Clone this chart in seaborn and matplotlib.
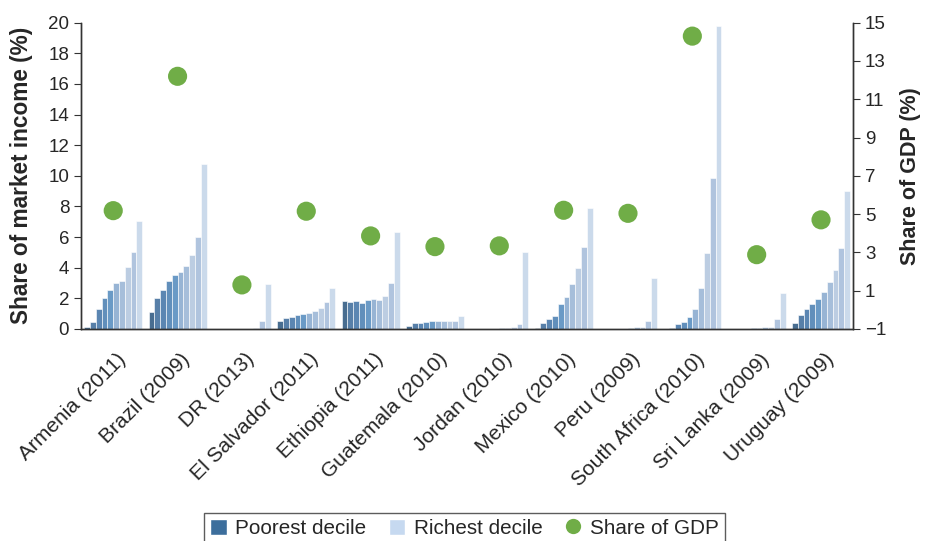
import numpy as np
import pandas as pd
import matplotlib
matplotlib.use("Agg")
import matplotlib.pyplot as plt
import matplotlib.transforms as mtransforms
import seaborn as sns
from matplotlib.lines import Line2D
from matplotlib.patches import Patch

countries = ["Armenia (2011)", "Brazil (2009)", "DR (2013)", "El Salvador (2011)",
             "Ethiopia (2011)", "Guatemala (2010)", "Jordan (2010)", "Mexico (2010)",
             "Peru (2009)", "South Africa (2010)", "Sri Lanka (2009)", "Uruguay (2009)"]

# share of market income per decile (poorest -> richest), %
armenia = [0.15, 0.43, 1.3, 2.0, 2.55, 3.0, 3.13, 4.03, 5.0, 7.05]
brazil = [1.13, 2.02, 2.57, 3.13, 3.5, 3.74, 4.11, 4.83, 6.0, 10.75]
dr = [0.0, 0.0, 0.0, 0.0, 0.01, 0.01, 0.02, 0.05, 0.5, 2.96]
el_salvador = [0.5, 0.72, 0.78, 0.89, 0.98, 1.07, 1.18, 1.35, 1.76, 2.68]
ethiopia = [1.83, 1.78, 1.83, 1.7, 1.87, 1.96, 1.89, 2.13, 3.0, 6.35]
guatemala = [0.22, 0.37, 0.41, 0.48, 0.5, 0.5, 0.5, 0.5, 0.52, 0.85]
jordan = [0.02, 0.02, 0.02, 0.02, 0.02, 0.05, 0.08, 0.1, 0.33, 5.03]
mexico = [0.09, 0.37, 0.67, 0.85, 1.63, 2.11, 2.92, 4.0, 5.37, 7.92]
peru = [0.0, 0.0, 0.0, 0.01, 0.02, 0.05, 0.1, 0.15, 0.5, 3.33]
south_africa = [0.02, 0.09, 0.33, 0.46, 0.76, 1.33, 2.7, 4.98, 9.88, 19.8]
sri_lanka = [0.01, 0.01, 0.01, 0.01, 0.03, 0.05, 0.1, 0.15, 0.65, 2.35]
uruguay = [0.39, 0.89, 1.3, 1.65, 1.96, 2.39, 3.07, 3.87, 5.29, 8.99]

# share of GDP, %
gdp_share = [5.18, 12.2, 1.3, 5.15, 3.86, 3.3, 3.34, 5.2, 5.04, 14.3, 2.88, 4.7]

deciles = [f"D{i}" for i in range(1, 11)]
decile_colors = ["#3c6e9c", "#4a7fb5", "#4c86c0", "#5290ca", "#5b9bd5",
                 "#8db3de", "#9dbde3", "#b6cce8", "#a8c3e6", "#c6d9f0"]

income = [armenia, brazil, dr, el_salvador, ethiopia, guatemala, jordan,
          mexico, peru, south_africa, sri_lanka, uruguay]
rows = []
for c, vals in zip(countries, income):
    for d, v in zip(deciles, vals):
        rows.append({"country": c, "decile": d, "share": v})
df = pd.DataFrame(rows)
gdp_df = pd.DataFrame({"country": countries, "gdp": gdp_share})

sns.set_style("white")
plt.rcParams["font.family"] = ["Liberation Sans", "DejaVu Sans"]

fig, ax = plt.subplots(figsize=(9.48, 5.41), dpi=100)
fig.subplots_adjust(left=0.0855, right=0.9, top=0.958, bottom=0.392)

sns.barplot(data=df, x="country", y="share", hue="decile", palette=decile_colors,
            width=0.9, gap=0, edgecolor="white", linewidth=0.4, legend=False, ax=ax)

ax2 = ax.twinx()
sns.scatterplot(data=gdp_df, x="country", y="gdp", color="#70ad47", s=190,
                edgecolor="none", legend=False, ax=ax2, zorder=5)

ax.set_xlim(-0.5, len(countries) - 0.5)
ax.set_ylim(0, 20)
ax.set_yticks(np.arange(0, 21, 2))
ax2.set_ylim(-1, 15)
ax2.set_yticks(np.arange(-1, 16, 2))
ax2.set_yticklabels(["\u22121"] + [str(v) for v in range(1, 16, 2)])

ax.set_xlabel("")
ax2.set_xlabel("")
ax.set_ylabel("Share of market income (%)", fontsize=16.3, fontweight="bold", labelpad=11)
ax2.set_ylabel("Share of GDP (%)", fontsize=15.5, fontweight="bold", labelpad=10)

ax.set_xticks(range(len(countries)))
ax.set_xticklabels(countries, rotation=45, ha="right", rotation_mode="anchor", fontsize=15)
ax.tick_params(axis="x", which="major", length=0, pad=15)
offset = mtransforms.ScaledTranslation(3 / 100, 0, fig.dpi_scale_trans)
for lbl in ax.get_xticklabels():
    lbl.set_transform(lbl.get_transform() + offset)
ax.set_xticks(np.arange(-0.5, len(countries), 1), minor=True)
ax.tick_params(axis="x", which="minor", length=5, direction="out", color="#333333")
ax.tick_params(axis="y", length=5, direction="out", labelsize=13.5, color="#333333")
ax2.tick_params(axis="y", length=5, direction="out", labelsize=13.5, color="#333333")

for a in (ax, ax2):
    a.spines["top"].set_visible(False)
    for s in ("left", "right", "bottom"):
        a.spines[s].set_color("#333333")
        a.spines[s].set_linewidth(1)

handles = [Patch(facecolor=decile_colors[0], label="Poorest decile"),
           Patch(facecolor=decile_colors[-1], label="Richest decile"),
           Line2D([0], [0], marker="o", color="none", markerfacecolor="#70ad47",
                  markeredgecolor="none", markersize=11, label="Share of GDP")]
leg = fig.legend(handles=handles, loc="lower center", bbox_to_anchor=(0.49, -0.025),
                 ncol=3, frameon=True, fancybox=False, fontsize=14.9,
                 handlelength=0.8, handleheight=0.8, handletextpad=0.4, columnspacing=1.1,
                 borderpad=0.3)
leg.get_frame().set_edgecolor("#333333")
leg.get_frame().set_linewidth(1)

fig.savefig("out.png", dpi=100)
